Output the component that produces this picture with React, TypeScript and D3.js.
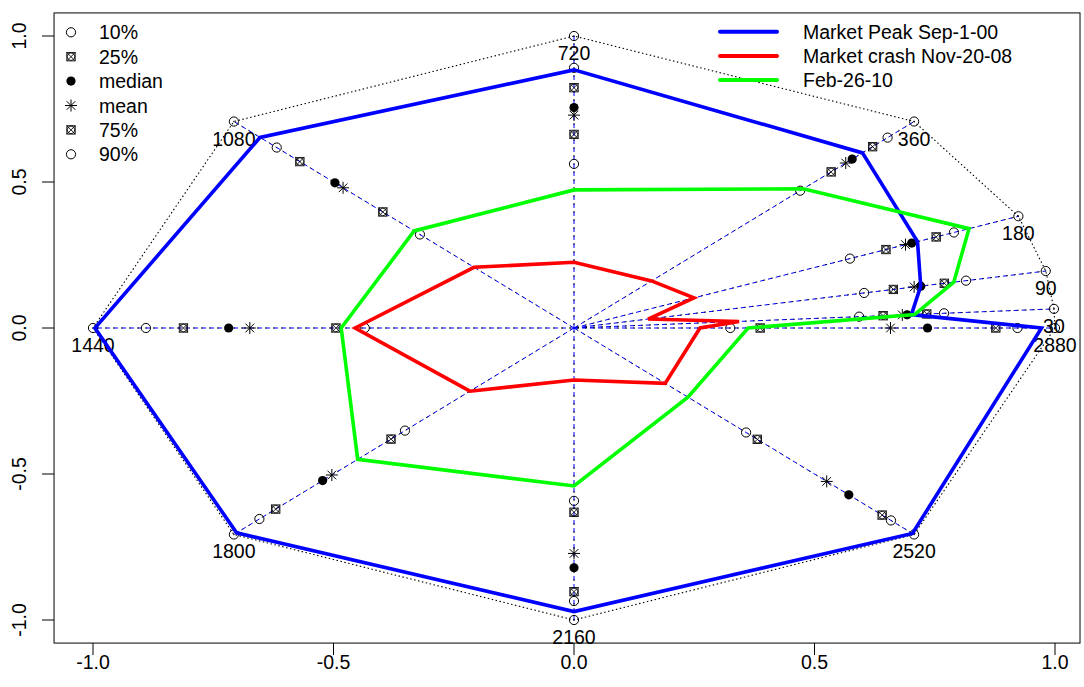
import React from "react";
import * as d3 from "d3";

// spokes (days); angle = days/8 degrees
const spokes = [30, 90, 180, 360, 720, 1080, 1440, 1800, 2160, 2520, 2880];
const outer = [1, 1, 1, 1, 1, 1, 1, 1, 1, 1, 1];
const p10 = [0.594, 0.615, 0.621, 0.665, 0.562, 0.453, 0.435, 0.497, 0.592, 0.506, 0.325];
const p25 = [0.644, 0.677, 0.702, 0.756, 0.663, 0.562, 0.495, 0.538, 0.631, 0.539, 0.387];
const med = [0.694, 0.735, 0.76, 0.818, 0.755, 0.703, 0.718, 0.739, 0.821, 0.808, 0.735];
const mean = [0.684, 0.721, 0.746, 0.799, 0.729, 0.679, 0.674, 0.712, 0.772, 0.743, 0.658];
const p75 = [0.735, 0.785, 0.815, 0.878, 0.823, 0.806, 0.812, 0.877, 0.903, 0.906, 0.877];
const p90 = [0.771, 0.831, 0.855, 0.922, 0.891, 0.874, 0.89, 0.925, 0.935, 0.932, 0.922];

const peak = [0.703, 0.735, 0.773, 0.848, 0.884, 0.923, 0.996, 0.992, 0.971, 0.995, 0.972];
const crash = [0.344, 0.157, 0.27, 0.228, 0.225, 0.294, 0.455, 0.306, 0.178, 0.268, 0.262];
const feb10 = [0.71, 0.805, 0.889, 0.674, 0.473, 0.47, 0.484, 0.636, 0.541, 0.335, 0.362];

const seriesNames = ["Market Peak Sep-1-00", "Market crash Nov-20-08", "Feb-26-10"];
const seriesColors = ["#0000ff", "#ff0000", "#00ff00"];
const legendLabels = ["10%", "25%", "median", "mean", "75%", "90%"];
const legendKinds = ["circle", "xsq", "dot", "star", "xsq", "circle"];
const ticks = [-1, -0.5, 0, 0.5, 1];
const tickLabels = ["-1.0", "-0.5", "0.0", "0.5", "1.0"];
const xlim = [-1.081, 1.052];
const ylim = [-1.079, 1.079];

const W = 1084;
const H = 687;
const FONT = "'Liberation Sans', Arial, Helvetica, sans-serif";
const FS = 19.5;

const xs = d3.scaleLinear().domain([-1, 1]).range([93, 1055]);
const ys = d3.scaleLinear().domain([-1, 1]).range([620, 36]);

const ang = (d: number) => ((d / 8) * Math.PI) / 180;
const pt = (i: number, r: number): [number, number] => [
  xs(r * Math.cos(ang(spokes[i]))),
  ys(r * Math.sin(ang(spokes[i]))),
];

function Marker({ kind, x, y }: { kind: string; x: number; y: number }) {
  const s = 4.6;
  if (kind === "circle")
    return <circle cx={x} cy={y} r={s} fill="none" stroke="#000" strokeWidth={1} />;
  if (kind === "dot") return <circle cx={x} cy={y} r={s} fill="#000" />;
  if (kind === "xsq") {
    const q = 4.2;
    return (
      <g stroke="#000" strokeWidth={0.85} fill="none">
        <rect x={x - q} y={y - q} width={2 * q} height={2 * q} />
        <circle cx={x} cy={y} r={q * 0.9} />
        <path d={`M${x - q},${y - q}L${x + q},${y + q}M${x - q},${y + q}L${x + q},${y - q}`} />
      </g>
    );
  }
  // star (pch 8)
  const a = 6;
  const b = a * 0.72;
  return (
    <path
      d={`M${x - a},${y}L${x + a},${y}M${x},${y - a}L${x},${y + a}M${x - b},${y - b}L${x + b},${y + b}M${x - b},${y + b}L${x + b},${y - b}`}
      stroke="#000"
      strokeWidth={1}
    />
  );
}

export default function App() {
  const outerPts = spokes.map((_, i) => pt(i, outer[i]));
  const line = d3.line<[number, number]>().curve(d3.curveLinearClosed);
  const markerSets: [number[], string][] = [
    [p10, "circle"],
    [p25, "xsq"],
    [med, "dot"],
    [mean, "star"],
    [p75, "xsq"],
    [p90, "circle"],
  ];
  const series = [peak, crash, feb10];
  const x0 = xs(xlim[0]);
  const x1 = xs(xlim[1]);
  const y0 = ys(ylim[1]);
  const y1 = ys(ylim[0]);
  const c = pt(0, 0);

  return (
    <svg
      width={W}
      height={H}
      style={{ position: "absolute", left: 0, top: 0, background: "#fff" }}
      fontFamily={FONT}
    >
      <rect x={0} y={0} width={W} height={H} fill="#fff" />
      {/* spokes */}
      {outerPts.map((p, i) => (
        <g key={"sp" + i}>
          <line x1={c[0]} y1={c[1]} x2={p[0]} y2={p[1]} stroke="#000" strokeWidth={1} strokeDasharray="2,6" strokeDashoffset={5} />
          <line x1={c[0]} y1={c[1]} x2={p[0]} y2={p[1]} stroke="#0000ff" strokeWidth={1} strokeDasharray="4,4" />
        </g>
      ))}
      {/* outer dotted polygon */}
      <path d={line(outerPts) || ""} fill="none" stroke="#000" strokeWidth={1.1} strokeDasharray="1.5,2.5" />
      {outerPts.map((p, i) => (
        <g key={"op" + i}>
          <circle cx={p[0]} cy={p[1]} r={4.6} fill="none" stroke="#000" strokeWidth={1} />
          <circle cx={p[0]} cy={p[1]} r={0.7} fill="#000" />
        </g>
      ))}
      {/* spoke labels */}
      {outerPts.map((p, i) => (
        <text key={"lb" + i} x={p[0]} y={p[1] + 24} fontSize={FS} textAnchor="middle" fill="#000">
          {spokes[i]}
        </text>
      ))}
      {/* quantile markers */}
      {markerSets.map(([vals, kind], k) =>
        vals.map((v, i) => {
          const p = pt(i, v);
          return <Marker key={"m" + k + "_" + i} kind={kind} x={p[0]} y={p[1]} />;
        })
      )}
      {/* series polygons */}
      {series.map((vals, k) => (
        <path
          key={"s" + k}
          d={line(vals.map((v, i) => pt(i, v))) || ""}
          fill="none"
          stroke={seriesColors[k]}
          strokeWidth={3.6}
          strokeLinejoin="miter"
        />
      ))}
      {/* axes box */}
      <rect x={x0} y={y0} width={x1 - x0} height={y1 - y0} fill="none" stroke="#000" strokeWidth={1} />
      {ticks.map((t, i) => (
        <g key={"tx" + i}>
          <line x1={xs(t)} x2={xs(t)} y1={y1} y2={y1 + 12} stroke="#000" />
          <text x={xs(t)} y={y1 + 26} fontSize={FS} textAnchor="middle">
            {tickLabels[i]}
          </text>
          <line x1={x0} x2={x0 - 12} y1={ys(t)} y2={ys(t)} stroke="#000" />
          <text
            x={0}
            y={0}
            fontSize={FS}
            textAnchor="middle"
            transform={`translate(${x0 - 28},${ys(t)}) rotate(-90)`}
          >
            {tickLabels[i]}
          </text>
        </g>
      ))}
      {/* left legend */}
      {legendLabels.map((l, i) => {
        const yy = 32.3 + i * 24.4;
        return (
          <g key={"lg" + i}>
            <Marker kind={legendKinds[i]} x={71} y={yy} />
            <text x={99} y={yy + 7} fontSize={FS}>
              {l}
            </text>
          </g>
        );
      })}
      {/* right legend */}
      {seriesNames.map((s, i) => {
        const yy = 31.7 + i * 24.2;
        return (
          <g key={"rl" + i}>
            <line x1={720} x2={777} y1={yy} y2={yy} stroke={seriesColors[i]} strokeWidth={4} strokeLinecap="round" />
            <text x={803} y={yy + 7} fontSize={FS}>
              {s}
            </text>
          </g>
        );
      })}
    </svg>
  );
}
